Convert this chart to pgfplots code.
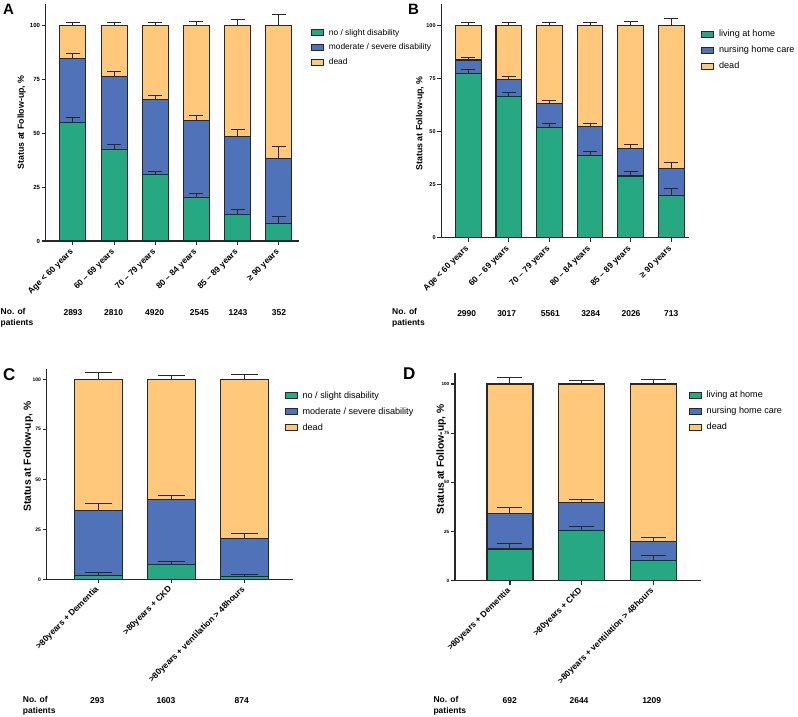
\documentclass[border=0pt]{standalone}
\usepackage{fontspec}
\setmainfont{Liberation Sans}
\usepackage{pgfplots}
\usepackage{pgfplotstable}
\pgfplotsset{compat=1.18}
\definecolor{cgreen}{RGB}{38,168,130}
\definecolor{cblue}{RGB}{79,114,184}
\definecolor{corange}{RGB}{255,200,122}
\definecolor{cedge}{RGB}{40,40,40}

\pgfplotstableread{
x g ge b be d de
0 55.0 2.2 84.7 2.2 100 1.2
1 42.3 2.2 76.4 2.1 100 1.5
2 30.8 1.5 65.5 1.9 100 1.2
3 20.2 1.9 56.0 2.4 100 1.9
4 12.4 2.1 48.5 3.1 100 2.8
5 8.0 3.3 38.2 5.4 100 5.1
}\dataA
\pgfplotstableread{
x g ge b be d de
0 77.5 1.9 83.8 1.4 100 1.4
1 66.5 2.2 74.5 1.4 100 1.4
2 52.0 1.8 63.4 1.1 100 1.3
3 38.8 1.9 52.4 1.4 100 1.7
4 29.1 2.0 42.1 1.8 100 2.0
5 20.0 3.1 32.5 2.9 100 3.5
}\dataB
\pgfplotstableread{
x g ge b be d de
0 1.8 1.7 34.5 3.3 100 3.3
1 7.3 1.5 39.8 2.0 100 2.0
2 1.5 1.0 20.2 2.6 100 2.5
}\dataC
\pgfplotstableread{
x g ge b be d de
0 16.1 2.7 34.2 2.9 100 3.1
1 25.6 2.2 39.7 1.7 100 1.9
2 10.5 2.2 20.0 2.0 100 2.2
}\dataD

\pgfplotsset{
  panel/.style={
    scale only axis, anchor=south west,
    ybar, bar shift=0pt, ymin=0,
    axis lines=left,
    axis line style={-, line width=1.3pt, draw=cedge},
    every outer x axis line/.append style={-},
    every outer y axis line/.append style={-},
    tick align=outside, major tick length=4pt,
    tick style={line width=1.1pt, draw=cedge},
    ytick={0,25,50,75,100},
    xtick=data,
    /pgf/number format/assume math mode=true,
    yticklabel style={font=\bfseries\fontsize{6}{7}\selectfont, inner sep=1.5pt},
    xticklabel style={font=\bfseries\fontsize{8.5}{9}\selectfont, rotate=45, anchor=east, inner sep=1pt},
    ylabel={Status at Follow-up, \%},
    legend cell align=left, reverse legend,
    legend image code/.code={\draw[#1, line width=1pt] (0pt,-3pt) rectangle (12pt,3pt);},
    legend style={draw=none, fill=none, anchor=north west, inner sep=0pt, outer sep=0pt,
       nodes={inner sep=0pt, text height=6.5pt, text depth=2pt}, row sep=6.2pt,
       /tikz/every odd column/.append style={column sep=5pt}},
    clip=false,
    error bars/y dir=plus, error bars/y explicit,
    error bars/error mark=-,
    error bars/error bar style={line width=1pt, draw=cedge},
  },
  capsize/.style={error bars/error mark options={rotate=90, line width=1pt, draw=cedge, mark size=#1}},
  segD/.style={fill=corange, draw=cedge, line width=1.1pt},
  segB/.style={fill=cblue, draw=cedge, line width=1.1pt},
  segG/.style={fill=cgreen, draw=cedge, line width=1.1pt},
}

\begin{document}
\begin{tikzpicture}[x=1pt,y=1pt]
\path[use as bounding box] (0,0) rectangle (798,716);

% ---------------- Panel A
\begin{axis}[panel, capsize=7pt, at={(45.7pt,475pt)}, width=253.3pt, height=237.3pt,
  ymax=110, xmin=-0.66, xmax=5.49, bar width=26pt, xticklabel shift=5pt,
  xticklabels={Age < 60 years, 60 – 69 years, 70 – 79 years, 80 – 84 years, 85 – 89 years, ≥ 90 years},
  ylabel style={at={(axis description cs:-0.095,0.5)}, anchor=center, font=\bfseries\fontsize{8.8}{10}\selectfont},
  legend style={at={(axis description cs:1.047,0.895)}, font=\fontsize{8.4}{10}\selectfont, row sep=6.2pt}]
\addplot[segD] table[x=x, y=d, y error=de] {\dataA};
\addlegendentry{dead}
\addplot[segB] table[x=x, y=b, y error=be] {\dataA};
\addlegendentry{moderate / severe disability}
\addplot[segG] table[x=x, y=g, y error=ge] {\dataA};
\addlegendentry{no / slight disability}
\end{axis}

% ---------------- Panel B
\begin{axis}[panel, capsize=7pt, at={(441.3pt,478.3pt)}, width=247.4pt, height=233.2pt,
  ymax=110, xmin=-0.665, xmax=5.43, bar width=25.7pt, xticklabel shift=5pt,
  yticklabel style={font=\bfseries\fontsize{5.5}{6}\selectfont},
  xticklabels={Age < 60 years, 60 – 69 years, 70 – 79 years, 80 – 84 years, 85 – 89 years, ≥ 90 years},
  ylabel style={at={(axis description cs:-0.086,0.49)}, anchor=center, font=\bfseries\fontsize{8.8}{10}\selectfont},
  legend style={at={(axis description cs:1.05,0.891)}, font=\fontsize{9.1}{10}\selectfont, row sep=7.5pt}]
\addplot[segD] table[x=x, y=d, y error=de] {\dataB};
\addlegendentry{dead}
\addplot[segB] table[x=x, y=b, y error=be] {\dataB};
\addlegendentry{nursing home care}
\addplot[segG] table[x=x, y=g, y error=ge] {\dataB};
\addlegendentry{living at home}
\end{axis}

% ---------------- Panel C
\begin{axis}[panel, capsize=13.5pt, at={(46.7pt,136.7pt)}, width=246pt, height=210pt,
  ymax=105, xmin=-0.707, xmax=2.66, bar width=48.3pt, xticklabel shift=4pt,
  yticklabel style={font=\bfseries\fontsize{5}{6}\selectfont},
  xticklabels={>80years + Dementia, >80years + CKD, >80years + ventilation > 48hours},
  ylabel style={at={(axis description cs:-0.075,0.584)}, anchor=center, font=\bfseries\fontsize{10.3}{11}\selectfont},
  legend style={at={(axis description cs:0.967,0.894)}, font=\fontsize{9.1}{10}\selectfont, row sep=7.5pt}]
\addplot[segD] table[x=x, y=d, y error=de] {\dataC};
\addlegendentry{dead}
\addplot[segB] table[x=x, y=b, y error=be] {\dataC};
\addlegendentry{moderate / severe disability}
\addplot[segG] table[x=x, y=g, y error=ge] {\dataC};
\addlegendentry{no / slight disability}
\end{axis}

% ---------------- Panel D
\begin{axis}[panel, capsize=12.5pt, at={(455pt,135.3pt)}, width=246pt, height=207.3pt,
  ymax=105.4, xmin=-0.767, xmax=2.665, bar width=46pt, xticklabel shift=4pt,
  yticklabel style={font=\bfseries\fontsize{4.6}{5}\selectfont},
  xticklabels={>80years + Dementia, >80years + CKD, >80years + ventilation > 48hours},
  ylabel style={at={(axis description cs:-0.056,0.586)}, anchor=center, font=\bfseries\fontsize{10.3}{11}\selectfont},
  legend style={at={(axis description cs:0.95,0.913)}, font=\fontsize{9.1}{10}\selectfont, row sep=7.5pt}]
\addplot[segD] table[x=x, y=d, y error=de] {\dataD};
\addlegendentry{dead}
\addplot[segB] table[x=x, y=b, y error=be] {\dataD};
\addlegendentry{nursing home care}
\addplot[segG] table[x=x, y=g, y error=ge] {\dataD};
\addlegendentry{living at home}
\end{axis}

% panel letters
\node[anchor=north west, inner sep=0pt, font=\bfseries\fontsize{15}{15}\selectfont] at (3,712) {A};
\node[anchor=north west, inner sep=0pt, font=\bfseries\fontsize{15}{15}\selectfont] at (408,712) {B};
\node[anchor=north west, inner sep=0pt, font=\bfseries\fontsize{17}{17}\selectfont] at (3,348) {C};
\node[anchor=north west, inner sep=0pt, font=\bfseries\fontsize{17}{17}\selectfont] at (403,348) {D};

% patient counts
\begin{scope}[every node/.style={font=\bfseries\fontsize{8.5}{10.5}\selectfont, inner sep=0pt}]
\node[anchor=west, align=left] at (0.5,398) {No. of\\patients};
\node at (73,403.3) {2893};
\node at (113.7,403.3) {2810};
\node at (154.7,403.3) {4920};
\node at (199.3,403.3) {2545};
\node at (238,403.3) {1243};
\node at (279,403.3) {352};
\node[anchor=west, align=left] at (392,398) {No. of\\patients};
\node at (466.7,402.7) {2990};
\node at (506.7,402.7) {3017};
\node at (550.3,402.7) {5561};
\node at (590.7,402.7) {3284};
\node at (631,402.7) {2026};
\node at (671.3,402.7) {713};
\node[anchor=west, align=left] at (22.7,10) {No. of\\patients};
\node at (97.3,15) {293};
\node at (166,15) {1603};
\node at (241.7,15) {874};
\node[anchor=west, align=left] at (433.3,10) {No. of\\patients};
\node at (509.7,15) {692};
\node at (579,15) {2644};
\node at (651.7,15) {1209};
\end{scope}
\end{tikzpicture}
\end{document}
